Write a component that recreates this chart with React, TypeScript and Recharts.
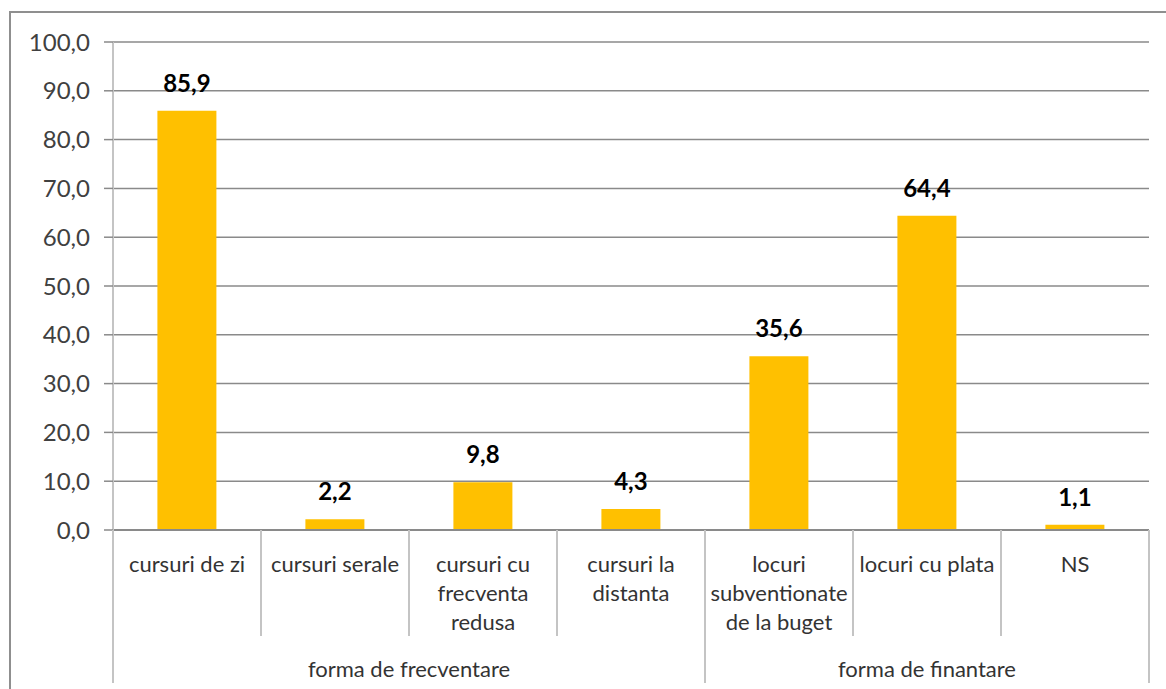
import React from 'react';
import { BarChart, Bar, XAxis, YAxis, CartesianGrid, LabelList } from 'recharts';

const categories = [
  'cursuri de zi',
  'cursuri serale',
  'cursuri cu\nfrecventa\nredusa',
  'cursuri la\ndistanta',
  'locuri\nsubventionate\nde la buget',
  'locuri cu plata',
  'NS',
];
const values = [85.9, 2.2, 9.8, 4.3, 35.6, 64.4, 1.1];
const groupNames = ['forma de frecventare', 'forma de finantare'];
const groupSizes = [4, 3];
const yTicks = [0, 10, 20, 30, 40, 50, 60, 70, 80, 90, 100];

const data = categories.map((name, i) => ({ name, value: values[i] }));

const FONT = 'Lato, "DejaVu Sans", sans-serif';
const fmt = (v: number) => v.toFixed(1).replace('.', ',');

// group start indices derived from sizes
const groupStarts: number[] = [];
groupSizes.reduce((acc, s) => {
  groupStarts.push(acc);
  return acc + s;
}, 0);

const CategoryTick = (props: any) => {
  const { x, y, payload, index } = props;
  const half = payload?.offset ?? 74;
  const lines = String(payload.value).split('\n');
  const gi = groupStarts.indexOf(index);
  const isLast = index === categories.length - 1;
  const left = x - half;
  return (
    <g>
      <line
        x1={left}
        x2={left}
        y1={y}
        y2={y + (gi >= 0 ? 153 : 106)}
        stroke="#c4c4c4"
        strokeWidth={2}
      />
      {isLast && (
        <line x1={x + half} x2={x + half} y1={y} y2={y + 153} stroke="#c4c4c4" strokeWidth={2} />
      )}
      {lines.map((l, i) => (
        <text
          key={i}
          x={x}
          y={y + 33 + i * 29}
          textAnchor="middle"
          dominantBaseline="central"
          fontFamily={FONT}
          fontSize={22}
          fill="#333"
        >
          {l}
        </text>
      ))}
      {gi >= 0 && (
        <text
          x={left + groupSizes[gi] * half}
          y={y + 138}
          textAnchor="middle"
          dominantBaseline="central"
          fontFamily={FONT}
          fontSize={22}
          fill="#333"
        >
          {groupNames[gi]}
        </text>
      )}
    </g>
  );
};

export default function App() {
  return (
    <div
      style={{
        position: 'fixed',
        left: 0,
        top: 0,
        width: 1166,
        height: 689,
        overflow: 'hidden',
        background: '#fff',
      }}
    >
      <div
        style={{
          position: 'absolute',
          left: 9,
          top: 11,
          width: 1200,
          height: 700,
          borderLeft: '2px solid #8f8f8f',
          borderTop: '2px solid #8f8f8f',
        }}
      />
      <div style={{ position: 'absolute', left: 0, top: 0 }}>
        <BarChart
          width={1166}
          height={689}
          data={data}
          margin={{ top: 42, right: 17, bottom: 0, left: 0 }}
          barCategoryGap="30%"
        >
          <CartesianGrid vertical={false} stroke="#8a8a8a" strokeWidth={1.5} />
          <XAxis
            dataKey="name"
            interval={0}
            tickLine={false}
            tickSize={0}
            tickMargin={0}
            height={159}
            axisLine={{ stroke: '#8a8a8a', strokeWidth: 2 }}
            tick={<CategoryTick />}
          />
          <YAxis
            width={113}
            domain={[0, 100]}
            ticks={yTicks}
            interval={0}
            tickFormatter={fmt}
            tickSize={9}
            tickMargin={14}
            axisLine={{ stroke: '#c4c4c4', strokeWidth: 2 }}
            tickLine={{ stroke: '#8a8a8a', strokeWidth: 1.5 }}
            tick={{ fontFamily: FONT, fontSize: 24, fill: '#404040' }}
          />
          <Bar dataKey="value" fill="#FFC000" isAnimationActive={false}>
            <LabelList
              dataKey="value"
              position="top"
              offset={19}
              formatter={(v: any) => fmt(Number(v))}
              style={{ fontFamily: FONT, fontSize: 24, fontWeight: 700, fill: '#000' }}
            />
          </Bar>
        </BarChart>
      </div>
    </div>
  );
}
